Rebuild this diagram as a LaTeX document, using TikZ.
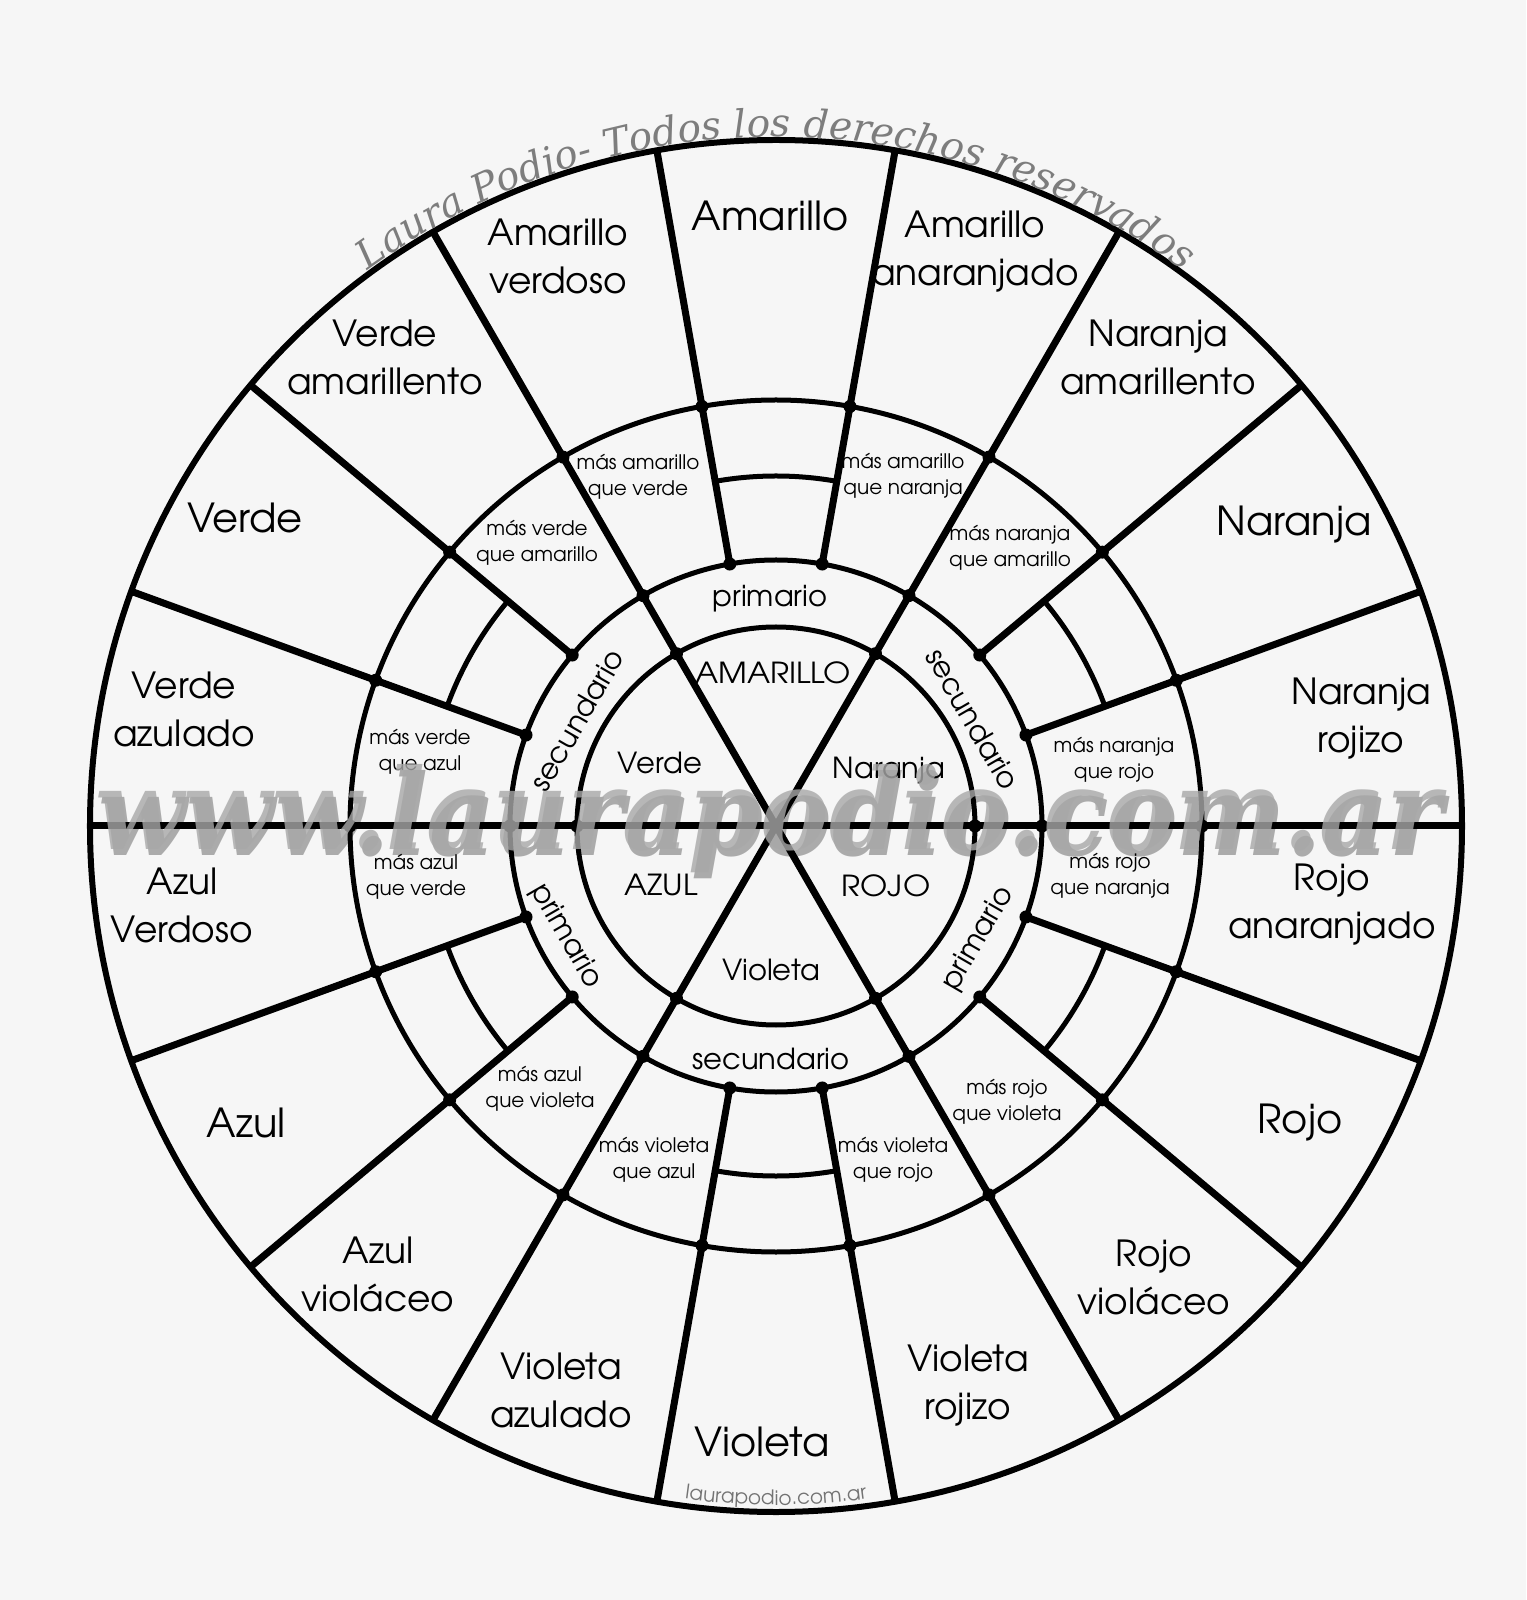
\documentclass[tikz,border=0pt]{standalone}
\usepackage{fontspec}
\setmainfont{TeX Gyre Adventor}
\newfontfamily\widefont[FakeStretch=1.08]{TeX Gyre Adventor}
\newfontfamily\markfont{DejaVu Serif}
\usetikzlibrary{decorations.text}
\definecolor{paper}{RGB}{246,246,246}
\definecolor{markgray}{RGB}{125,125,125}
\definecolor{wwwgray}{RGB}{168,168,168}

\tikzset{
  ring/.style={line width=5pt},
  spoke/.style={line width=7pt},
  tone/.style={align=center, font=\fontsize{40}{48}\selectfont},
  tonedos/.style={align=center, font=\fontsize{36}{48}\selectfont},
  mezcla/.style={align=center, font=\fontsize{20}{26}\selectfont},
  clase/.style={font=\fontsize{29}{33}\selectfont},
  nucleo/.style={font=\fontsize{29}{33}\selectfont},
  nucleomay/.style={font=\widefont\fontsize{29}{33}\selectfont},
}

\begin{document}
\begin{tikzpicture}[x=1pt,y=1pt]
\fill[paper] (-776,-774) rectangle (750,826);
\useasboundingbox (-776,-774) rectangle (750,826);

% circles
\draw[line width=6pt] (0,0) circle[radius=686];
\draw[ring] (0,0) circle[radius=426];
\draw[ring] (0,0) circle[radius=266];
\draw[ring] (0,0) circle[radius=199];
\foreach \a in {30,90,150,210,270,330}
  \draw[ring] ({\a-10}:350) arc[start angle=\a-10, end angle=\a+10, radius=350];

% spokes
\foreach \a in {0,60,...,300}
  \draw[spoke] (0,0) -- (\a:686);
\foreach \a in {20,40,80,100,140,160,200,220,260,280,320,340}
  \draw[spoke] (\a:266) -- (\a:686);
\foreach \a in {0,20,...,340} {
  \fill (\a:426) circle[radius=6.5];
  \fill (\a:266) circle[radius=6.5];
}
\foreach \a in {0,60,...,300}
  \fill (\a:199) circle[radius=6.5];
\fill (0,0) circle[radius=6];

% outer ring
\node[tone] (amarillo) at (-6,610) {Amarillo};
\node[tonedos] (amverdoso) at (-218,570) {Amarillo\\verdoso};
\node[tonedos] (amnaranja) at (199,574) {Amarillo\\anaranjado};
\node[tonedos] (naamarillo) at (382,469) {Naranja\\amarillento};
\node[tone] (naranja) at (518,301) {Naranja};
\node[tonedos] (narojizo) at (585,107) {Naranja\\rojizo};
\node[tonedos] (ronaranja) at (556,-79) {Rojo\\anaranjado};
\node[tone] (rojo) at (524,-297) {Rojo};
\node[tonedos] (roviolaceo) at (378,-451) {Rojo\\violáceo};
\node[tonedos] (virojizo) at (192,-560) {Violeta\\rojizo};
\node[tone] (violeta) at (-14,-616) {Violeta};
\node[tonedos] (viazulado) at (-215,-564) {Violeta\\azulado};
\node[tonedos] (azviolaceo) at (-398,-448) {Azul\\violáceo};
\node[tone] (azul) at (-530,-297) {Azul};
\node[tonedos] (azverdoso) at (-594,-79) {Azul\\Verdoso};
\node[tonedos] (veazulado) at (-592,117) {Verde\\azulado};
\node[tone] (verde) at (-531,308) {Verde};
\node[tonedos] (veamarillo) at (-391,469) {Verde\\amarillento};

% middle ring
\node[mezcla] (m1) at (-138,349) {más amarillo\\que verde};
\node[mezcla] (m2) at (127,350) {más amarillo\\que naranja};
\node[mezcla] (m3) at (234,278) {más naranja\\que amarillo};
\node[mezcla] (m4) at (338,66) {más naranja\\que rojo};
\node[mezcla] (m5) at (334,-50) {más rojo\\que naranja};
\node[mezcla] (m6) at (231,-276) {más rojo\\que violeta};
\node[mezcla] (m7) at (117,-334) {más violeta\\que rojo};
\node[mezcla] (m8) at (-122,-334) {más violeta\\que azul};
\node[mezcla] (m9) at (-236,-263) {más azul\\que violeta};
\node[mezcla] (m10) at (-360,-51) {más azul\\que verde};
\node[mezcla] (m11) at (-356,74) {más verde\\que azul};
\node[mezcla] (m12) at (-239,283) {más verde\\que amarillo};

% primario / secundario
\node[clase] (c1) at (-6,227) {primario};
\node[clase, rotate=-60] (c2) at (197,107) {secundario};
\node[clase, rotate=60] (c3) at (202,-113) {primario};
\node[clase] (c4) at (-5,-233) {secundario};
\node[clase, rotate=-60] (c5) at (-210,-110) {primario};
\node[clase, rotate=60] (c6) at (-199,106) {secundario};

% center
\node[nucleomay] (amarillo0) at (-3,153) {AMARILLO};
\node[nucleo] (naranja0) at (113,55) {Naranja};
\node[nucleomay] (rojo0) at (110,-60) {ROJO};
\node[nucleo] (violeta0) at (-5,-144) {Violeta};
\node[nucleomay] (azul0) at (-115,-59) {AZUL};
\node[nucleo] (verde0) at (-116,63) {Verde};

% marks
\path[decorate, decoration={text along path, text align=center, text color=markgray,
  text={|\markfont\itshape\fontsize{39}{39}\selectfont|Laura Podio- Todos los derechos reservados}}]
  (160:689) arc[start angle=160, end angle=20, radius=689];
\path[decorate, decoration={text along path, text align=center, text color=black!55,
  text={|\fontsize{20}{20}\selectfont|laurapodio.com.ar}}]
  (-100:679) arc[start angle=-100, end angle=-80, radius=679];
\node[anchor=base, text=black, opacity=0.3] (sombra) at (-5,-30)
  {\markfont\bfseries\itshape\fontsize{112}{112}\selectfont\scalebox{0.92}[1]{www.laurapodio.com.ar}};
\node[anchor=base, text=wwwgray, opacity=0.8] (www) at (-8,-24)
  {\markfont\bfseries\itshape\fontsize{112}{112}\selectfont\scalebox{0.92}[1]{www.laurapodio.com.ar}};
\end{tikzpicture}
\end{document}
